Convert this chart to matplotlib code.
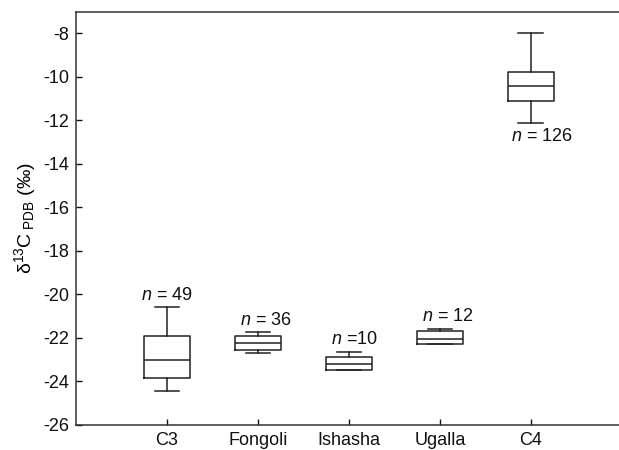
import matplotlib
matplotlib.use("Agg")
import matplotlib.pyplot as plt

categories = ["C3", "Fongoli", "Ishasha", "Ugalla", "C4"]
q1 = [-23.84, -22.54, -23.47, -22.28, -11.10]
med = [-23.00, -22.25, -23.21, -22.06, -10.42]
q3 = [-21.90, -21.92, -22.86, -21.67, -9.79]
whislo = [-24.45, -22.68, -23.47, -22.28, -12.12]
whishi = [-20.60, -21.74, -22.66, -21.58, -8.00]
n_labels = ["49", "36", "10", "12", "126"]
n_sep = [" = ", " = ", " =", " = ", " = "]
label_x = [1.0, 2.09, 3.06, 4.09, 5.12]
label_y = [-20.03, -21.18, -22.09, -21.02, -12.75]

plt.rcParams['font.family'] = ['Liberation Sans', 'DejaVu Sans']
plt.rcParams['mathtext.fontset'] = 'custom'
plt.rcParams['mathtext.rm'] = 'Liberation Sans'
plt.rcParams['mathtext.it'] = 'Liberation Sans:italic'
plt.rcParams['mathtext.bf'] = 'Liberation Sans:bold'
plt.rcParams['axes.unicode_minus'] = False

fig = plt.figure(figsize=(6.19, 4.5), dpi=100)
ax = fig.add_axes([0.1228, 0.0556, 0.8772, 0.9178])

stats = []
for i, c in enumerate(categories):
    stats.append(dict(label=c, q1=q1[i], med=med[i], q3=q3[i],
                      whislo=whislo[i], whishi=whishi[i], fliers=[]))

lc = '#222222'
positions = list(range(1, len(categories) + 1))
ax.bxp(stats, positions=positions, widths=0.5, showfliers=False,
       boxprops=dict(color=lc, linewidth=1.1),
       medianprops=dict(color=lc, linewidth=1.1),
       whiskerprops=dict(color=lc, linewidth=1.1),
       capprops=dict(color=lc, linewidth=1.1),
       capwidths=0.27)

for i in range(len(categories)):
    ax.text(label_x[i], label_y[i], r'$n$' + n_sep[i] + n_labels[i],
            ha='center', va='center', fontsize=13, color='#111111')

ax.set_xlim(0, 5.97)
ax.set_ylim(-26, -7.03)
ax.set_yticks(range(-26, -7, 2))
ax.set_xticks(positions)
ax.set_xticklabels(categories)
ax.tick_params(direction='in', length=4, width=1, labelsize=13, colors='#111111')
ax.tick_params(axis='x', pad=5)
ax.tick_params(axis='y', pad=5)
for s in ['left', 'top', 'bottom']:
    ax.spines[s].set_linewidth(1.1)
    ax.spines[s].set_color('#333333')
ax.spines['right'].set_visible(False)

ax.set_ylabel('δ$^{13}$C$_{\\ \\mathrm{PDB}}$ (‰)', fontsize=14, labelpad=4)

fig.savefig('out.png', dpi=100)
